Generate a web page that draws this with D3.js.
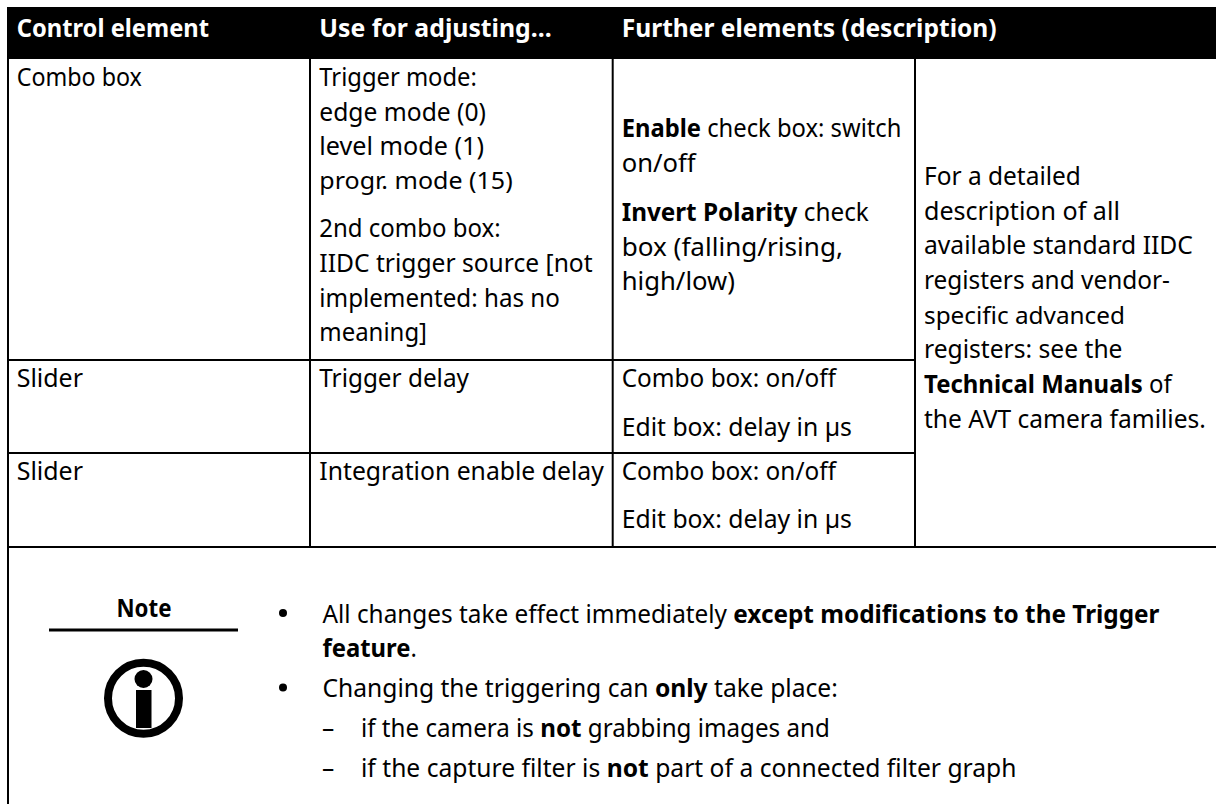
<!DOCTYPE html>
<html><head><meta charset="utf-8"><script src="https://cdn.jsdelivr.net/npm/d3@7"></script>
<style>html,body{margin:0;padding:0;background:#fff}svg{display:block}text{font-family:"Noto Sans","Open Sans",sans-serif;fill:#000}</style></head>
<body><svg id="c" width="1216" height="804"></svg>
<script>
const headers=[["Control element",209],["Use for adjusting...",551.7],["Further elements (description)",996.7]];
const col1=[["Combo box",86,142],["Slider",387,83],["Slider",480,83]];
const col2=[["Trigger mode:",86,477],["edge mode (0)",120.5,486],["level mode (1)",155,484],["progr. mode (15)",189,512.7],["2nd combo box:",237,500.7],["IIDC trigger source [not",271.5,592.7],["implemented: has no",306.5,560],["meaning]",341,427],["Trigger delay",387,469],["Integration enable delay",480,604]];
const col3=[[[["Enable",1],[" check box: switch",0]],137,901.7],[[["on/off",0]],172,695.7],[[["Invert Polarity",1],[" check",0]],221,869],[[["box (falling/rising,",0]],255.5,843],[[["high/low)",0]],290,735],[[["Combo box: on/off",0]],387,836],[[["Edit box: delay in µs",0]],435.5,852],[[["Combo box: on/off",0]],480,836],[[["Edit box: delay in µs",0]],528,852]];
const col4=[[[["For a detailed",0]],185,1081],[[["description of all",0]],219.5,1120],[[["available standard IIDC",0]],254,1193],[[["registers and vendor-",0]],289,1170],[[["specific advanced",0]],323.5,1125],[[["registers: see the",0]],358,1122.7],[[["Technical Manuals",1],[" of",0]],393,1171.7],[[["the AVT camera families.",0]],427.5,1206]];
const notes=[[[["All changes take effect immediately ",0],["except modifications to the Trigger",1]],622.5,1160,322.5],[[["feature",1],[".",0]],657,417,322.5],[[["Changing the triggering can ",0],["only",1],[" take place:",0]],697,838,322.5],[[["if the camera is ",0],["not",1],[" grabbing images and",0]],737,830,361],[[["if the capture filter is ",0],["not",1],[" part of a connected filter graph",0]],777,1016.7,361]];
const bullets=[622.5,697];
const dashes=[737,777];
const vLines=[[8,59,804],[310,59,547],[612.7,59,547],[915,59,547]];
const hLines=[[360,8,915],[453,8,915],[547,8,1216]];
const svg=d3.select("#c");
const FS=24.5;
const colX=[16.7,319.3,621.7,924];
svg.append("rect").attr("x",7).attr("y",7).attr("width",1209).attr("height",52).attr("fill","#000");
svg.selectAll("line.v").data(vLines).join("line").attr("x1",d=>d[0]).attr("x2",d=>d[0]).attr("y1",d=>d[1]).attr("y2",d=>d[2]).attr("stroke","#000").attr("stroke-width",2);
svg.selectAll("line.hh").data(hLines).join("line").attr("class","hh").attr("y1",d=>d[0]).attr("y2",d=>d[0]).attr("x1",d=>d[1]).attr("x2",d=>d[2]).attr("stroke","#000").attr("stroke-width",2);
// draw one text line and squeeze it horizontally to the width
const fit=(t,x,y,end)=>{const k=(end-x)/t.node().getComputedTextLength();t.attr("transform",`translate(${x},${y}) scale(${k},1)`);return t;};
const plain=(s,x,y,end)=>fit(svg.append("text").attr("font-size",FS).text(s),x,y,end);
const rich=(parts,x,y,end)=>{const t=svg.append("text").attr("font-size",FS);parts.forEach(s=>t.append("tspan").attr("font-weight",s[1]?700:400).text(s[0]));return fit(t,x,y,end);};
headers.forEach((h,i)=>plain(h[0],colX[i],37,h[1]).attr("font-weight",700).style("fill","#fff"));
headers.forEach(()=>{});
svg.selectAll("text").each(function(){const s=d3.select(this);if(s.style("fill")==="rgb(255, 255, 255)"){const tr=s.attr("transform").match(/translate\(([^,]+),/)[1];const i=colX.indexOf(+tr);fit(s,+tr,37,headers[i][1]);}});
col1.forEach(r=>plain(r[0],colX[0],r[1],r[2]));
col2.forEach(r=>plain(r[0],colX[1],r[1],r[2]));
col3.forEach(r=>rich(r[0],colX[2],r[1],r[2]));
col4.forEach(r=>rich(r[0],colX[3],r[1],r[2]));
notes.forEach(n=>rich(n[0],n[3],n[1],n[2]));
bullets.forEach(y=>svg.append("circle").attr("cx",283).attr("cy",y-9.5).attr("r",4).attr("fill","#000"));
dashes.forEach(y=>svg.append("text").attr("x",322).attr("y",y).attr("font-size",FS).text("–"));
svg.append("text").attr("x",144).attr("y",617).attr("text-anchor","middle").attr("font-size",FS).attr("font-weight",700).attr("textLength",55).attr("lengthAdjust","spacingAndGlyphs").text("Note");
svg.append("line").attr("x1",49).attr("x2",238).attr("y1",630).attr("y2",630).attr("stroke","#000").attr("stroke-width",3);
svg.append("circle").attr("cx",143.5).attr("cy",698.3).attr("r",35.5).attr("fill","none").attr("stroke","#000").attr("stroke-width",8);
svg.append("circle").attr("cx",143.5).attr("cy",679).attr("r",9).attr("fill","#000");
svg.append("rect").attr("x",136).attr("y",690).attr("width",15.5).attr("height",38).attr("fill","#000");
</script></body></html>
